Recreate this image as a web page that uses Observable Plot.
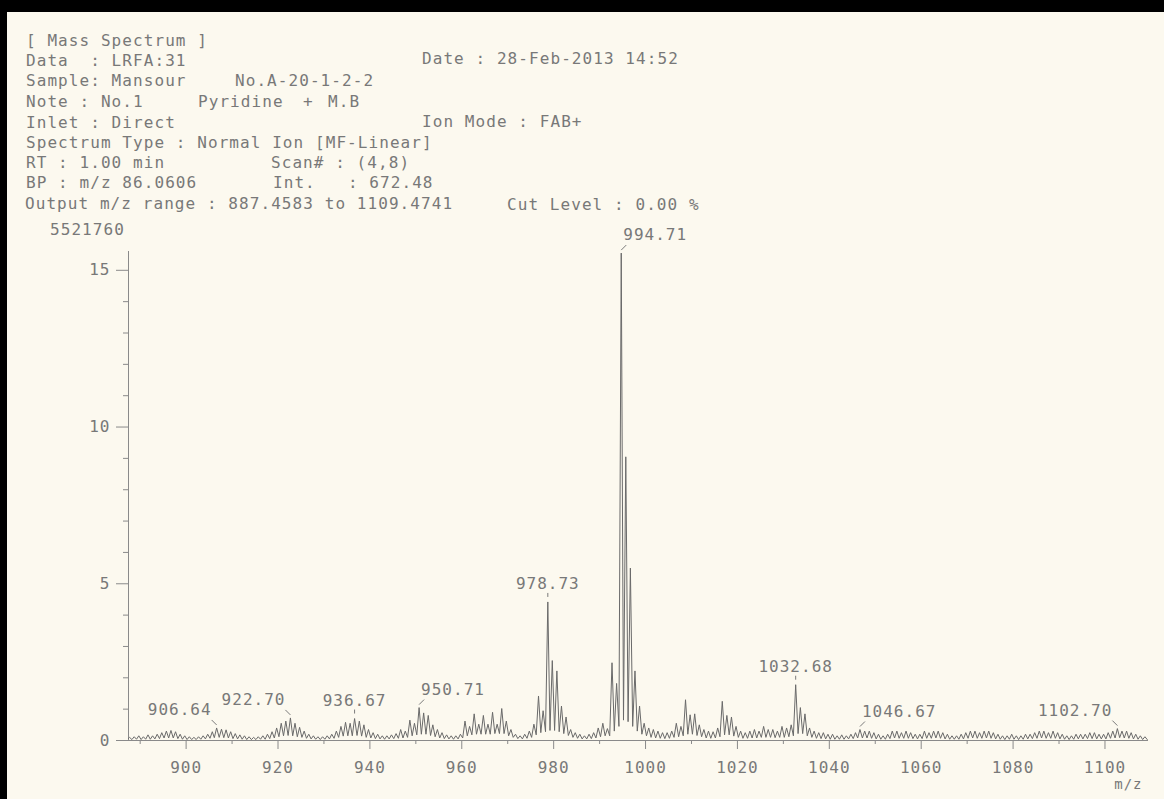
<!DOCTYPE html>
<html>
<head>
<meta charset="utf-8">
<script src="https://cdn.jsdelivr.net/npm/d3@7"></script>
<script src="https://cdn.jsdelivr.net/npm/@observablehq/plot@0.6"></script>
<style>
  html, body { margin: 0; padding: 0; background: #fcf9ef; }
  #page { position: relative; width: 1164px; height: 799px; overflow: hidden; background: #fcf9ef;
          font-family: "DejaVu Sans Mono", monospace; color: #787878; }
  .bar-top { position: absolute; left: 0; top: 0; width: 1164px; height: 12px; background: #000; z-index: 3; }
  .bar-left { position: absolute; left: 0; top: 0; width: 7px; height: 799px; background: #000; z-index: 3; }
  .t { position: absolute; font-size: 16px; line-height: 16px; letter-spacing: 1.07px; white-space: pre; z-index: 2; }
  #chart { position: absolute; left: 0; top: 0; z-index: 1; }
</style>
</head>
<body>
<div id="page">
  <div class="bar-top"></div>
  <div class="bar-left"></div>

  <div class="t" style="left:26px; top:33px;">[ Mass Spectrum ]</div>
  <div class="t" style="left:26px; top:53px;">Data  : LRFA:31</div>
  <div class="t" style="left:422px; top:51px;">Date : 28-Feb-2013 14:52</div>
  <div class="t" style="left:26px; top:73px;">Sample: Mansour</div>
  <div class="t" style="left:235px; top:73px;">No.A-20-1-2-2</div>
  <div class="t" style="left:26px; top:94px;">Note : No.1</div>
  <div class="t" style="left:198px; top:94px;">Pyridine</div>
  <div class="t" style="left:303px; top:94px;">+</div>
  <div class="t" style="left:328px; top:94px;">M.B</div>
  <div class="t" style="left:26px; top:115px;">Inlet : Direct</div>
  <div class="t" style="left:422px; top:114px;">Ion Mode : FAB+</div>
  <div class="t" style="left:26px; top:135px;">Spectrum Type : Normal Ion [MF-Linear]</div>
  <div class="t" style="left:26px; top:155px;">RT : 1.00 min</div>
  <div class="t" style="left:271px; top:155px;">Scan# : (4,8)</div>
  <div class="t" style="left:26px; top:175px;">BP : m/z 86.0606</div>
  <div class="t" style="left:273px; top:175px;">Int.   : 672.48</div>
  <div class="t" style="left:25px; top:196px;">Output m/z range : 887.4583 to 1109.4741</div>
  <div class="t" style="left:507px; top:197px;">Cut Level : 0.00 %</div>
  <div class="t" style="left:50px; top:222px;">5521760</div>

  <div id="chart"></div>
</div>

<script>
// ---- axis tick values ----
const xMajor = [900, 920, 940, 960, 980, 1000, 1020, 1040, 1060, 1080, 1100];
const xMinor = [890, 910, 930, 950, 970, 990, 1010, 1030, 1050, 1070, 1090];
const yMajor = [0, 5, 10, 15];
const yMinor = [1, 2, 3, 4, 6, 7, 8, 9, 11, 12, 13, 14];
const xDomain = [887.4583, 1109.4741];
const yDomain = [0, 15.6];

// ---- profile peaks (m/z of each isotope peak) ----
const peakMz = [
  887.7, 888.7, 889.7, 890.7, 891.7, 892.7, 893.7, 894.7, 895.7, 896.7,
  897.7, 898.7, 899.7, 900.7, 901.7, 902.7, 903.7, 904.7, 905.7, 906.64,
  907.7, 908.7, 909.7, 910.7, 911.7, 912.7, 913.7, 914.7, 915.7, 916.7,
  917.7, 918.7, 919.7, 920.7, 921.7, 922.70, 923.7, 924.7, 925.7, 926.7,
  927.7, 928.7, 929.7, 930.7, 931.7, 932.7, 933.7, 934.7, 935.7, 936.67,
  937.7, 938.7, 939.7, 940.7, 941.7, 942.7, 943.7, 944.7, 945.7, 946.7,
  947.7, 948.7, 949.7, 950.71, 951.7, 952.7, 953.7, 954.7, 955.7, 956.7,
  957.7, 958.7, 959.7, 960.7, 961.7, 962.7, 963.7, 964.7, 965.7, 966.7,
  967.7, 968.7, 969.7, 970.7, 971.7, 972.7, 973.7, 974.7, 975.7, 976.7,
  977.7, 978.73, 979.7, 980.7, 981.7, 982.7, 983.7, 984.7, 985.7, 986.7,
  987.7, 988.7, 989.7, 990.7, 991.7, 992.7, 993.7, 994.71, 995.7, 996.7,
  997.7, 998.7, 999.7, 1000.7, 1001.7, 1002.7, 1003.7, 1004.7, 1005.7, 1006.7,
  1007.7, 1008.7, 1009.7, 1010.7, 1011.7, 1012.7, 1013.7, 1014.7, 1015.7, 1016.7,
  1017.7, 1018.7, 1019.7, 1020.7, 1021.7, 1022.7, 1023.7, 1024.7, 1025.7, 1026.7,
  1027.7, 1028.7, 1029.7, 1030.7, 1031.7, 1032.68, 1033.7, 1034.7, 1035.7, 1036.7,
  1037.7, 1038.7, 1039.7, 1040.7, 1041.7, 1042.7, 1043.7, 1044.7, 1045.7, 1046.67,
  1047.7, 1048.7, 1049.7, 1050.7, 1051.7, 1052.7, 1053.7, 1054.7, 1055.7, 1056.7,
  1057.7, 1058.7, 1059.7, 1060.7, 1061.7, 1062.7, 1063.7, 1064.7, 1065.7, 1066.7,
  1067.7, 1068.7, 1069.7, 1070.7, 1071.7, 1072.7, 1073.7, 1074.7, 1075.7, 1076.7,
  1077.7, 1078.7, 1079.7, 1080.7, 1081.7, 1082.7, 1083.7, 1084.7, 1085.7, 1086.7,
  1087.7, 1088.7, 1089.7, 1090.7, 1091.7, 1092.7, 1093.7, 1094.7, 1095.7, 1096.7,
  1097.7, 1098.7, 1099.7, 1100.7, 1101.7, 1102.70, 1103.7, 1104.7, 1105.7, 1106.7,
  1107.7, 1108.7
];

// ---- peak intensities (scale units, 0..15) ----
const peakInt = [
  0.10, 0.12, 0.15, 0.12, 0.18, 0.15, 0.20, 0.25, 0.30, 0.32,
  0.28, 0.20, 0.15, 0.12, 0.10, 0.12, 0.15, 0.20, 0.28, 0.40,
  0.36, 0.34, 0.28, 0.22, 0.18, 0.15, 0.12, 0.10, 0.12, 0.15,
  0.20, 0.28, 0.40, 0.55, 0.62, 0.72, 0.55, 0.42, 0.30, 0.20,
  0.15, 0.12, 0.12, 0.15, 0.20, 0.30, 0.45, 0.58, 0.55, 0.70,
  0.62, 0.50, 0.35, 0.25, 0.20, 0.15, 0.15, 0.18, 0.22, 0.35,
  0.30, 0.65, 0.55, 1.05, 0.88, 0.80, 0.50, 0.35, 0.25, 0.18,
  0.15, 0.15, 0.20, 0.62, 0.45, 0.85, 0.52, 0.80, 0.52, 0.90,
  0.52, 1.02, 0.62, 0.35, 0.20, 0.15, 0.20, 0.30, 0.52, 1.42,
  0.95, 4.42, 2.55, 2.22, 1.10, 0.75, 0.35, 0.25, 0.20, 0.15,
  0.20, 0.25, 0.40, 0.55, 0.38, 2.48, 1.82, 15.55, 9.05, 5.50,
  2.22, 1.10, 0.55, 0.40, 0.35, 0.30, 0.25, 0.25, 0.30, 0.55,
  0.45, 1.30, 0.82, 0.85, 0.50, 0.35, 0.30, 0.28, 0.40, 1.25,
  0.80, 0.75, 0.45, 0.30, 0.25, 0.30, 0.35, 0.30, 0.45, 0.35,
  0.35, 0.30, 0.45, 0.40, 0.50, 1.78, 1.05, 0.85, 0.40, 0.30,
  0.25, 0.25, 0.20, 0.20, 0.15, 0.18, 0.15, 0.20, 0.25, 0.35,
  0.30, 0.30, 0.25, 0.20, 0.15, 0.20, 0.30, 0.30, 0.25, 0.30,
  0.25, 0.20, 0.20, 0.30, 0.25, 0.30, 0.30, 0.25, 0.20, 0.15,
  0.15, 0.20, 0.25, 0.30, 0.30, 0.25, 0.30, 0.30, 0.25, 0.20,
  0.15, 0.15, 0.20, 0.15, 0.15, 0.20, 0.20, 0.25, 0.30, 0.30,
  0.25, 0.30, 0.25, 0.20, 0.15, 0.15, 0.20, 0.20, 0.20, 0.25,
  0.25, 0.20, 0.20, 0.25, 0.30, 0.38, 0.30, 0.30, 0.25, 0.20,
  0.15, 0.12
];

// ---- valley intensity just before each peak (last value = trailing valley) ----
const valleyInt = [
  0.03, 0.03, 0.04, 0.03, 0.04, 0.04, 0.05, 0.06, 0.08, 0.08,
  0.08, 0.06, 0.04, 0.03, 0.03, 0.03, 0.04, 0.05, 0.07, 0.09,
  0.10, 0.09, 0.08, 0.06, 0.05, 0.04, 0.03, 0.03, 0.03, 0.04,
  0.04, 0.06, 0.08, 0.12, 0.15, 0.16, 0.15, 0.12, 0.10, 0.07,
  0.05, 0.04, 0.03, 0.04, 0.05, 0.07, 0.10, 0.14, 0.15, 0.15,
  0.16, 0.14, 0.10, 0.08, 0.06, 0.05, 0.04, 0.05, 0.06, 0.07,
  0.08, 0.10, 0.15, 0.18, 0.20, 0.20, 0.16, 0.12, 0.08, 0.06,
  0.05, 0.04, 0.05, 0.08, 0.15, 0.18, 0.20, 0.20, 0.20, 0.20,
  0.22, 0.22, 0.22, 0.15, 0.10, 0.06, 0.05, 0.07, 0.10, 0.18,
  0.25, 0.28, 0.32, 0.32, 0.28, 0.22, 0.16, 0.10, 0.07, 0.05,
  0.05, 0.06, 0.08, 0.12, 0.15, 0.15, 0.30, 0.45, 0.65, 0.60,
  0.45, 0.30, 0.20, 0.15, 0.10, 0.08, 0.07, 0.06, 0.07, 0.10,
  0.12, 0.15, 0.20, 0.20, 0.16, 0.12, 0.08, 0.07, 0.08, 0.12,
  0.18, 0.18, 0.14, 0.10, 0.07, 0.07, 0.08, 0.08, 0.10, 0.10,
  0.10, 0.09, 0.10, 0.10, 0.12, 0.15, 0.22, 0.22, 0.15, 0.10,
  0.07, 0.06, 0.05, 0.04, 0.04, 0.04, 0.04, 0.05, 0.06, 0.08,
  0.08, 0.08, 0.07, 0.05, 0.04, 0.04, 0.06, 0.08, 0.07, 0.07,
  0.07, 0.06, 0.05, 0.06, 0.07, 0.07, 0.08, 0.07, 0.05, 0.04,
  0.04, 0.04, 0.05, 0.07, 0.08, 0.07, 0.07, 0.08, 0.07, 0.05,
  0.04, 0.03, 0.04, 0.04, 0.03, 0.04, 0.05, 0.06, 0.07, 0.08,
  0.07, 0.07, 0.07, 0.05, 0.04, 0.03, 0.04, 0.05, 0.05, 0.06,
  0.06, 0.05, 0.05, 0.05, 0.07, 0.08, 0.09, 0.08, 0.07, 0.05,
  0.04, 0.03, 0.03
];

// ---- labelled peaks ----
const labelMz = [906.64, 922.70, 936.67, 950.71, 978.73, 994.71, 1032.68, 1046.67, 1102.70];
const labelSide = ["left", "left", "center", "right", "center", "right", "center", "right", "left"];

// ---- build chart ----
const W = 1164, H = 799;
const mL = 128, mR = 16, mT = 251, mB = 59;
const kx = (W - mL - mR) / (xDomain[1] - xDomain[0]);
const ky = (H - mT - mB) / (yDomain[1] - yDomain[0]);

const profile = [];
peakMz.forEach((m, i) => {
  profile.push({mz: m - 0.5, v: valleyInt[i]});
  profile.push({mz: m, v: peakInt[i]});
});
profile.push({mz: peakMz[peakMz.length - 1] + 0.5, v: valleyInt[valleyInt.length - 1]});

const labels = labelMz.map((m, i) => ({
  mz: m,
  h: peakInt[peakMz.indexOf(m)],
  side: labelSide[i],
  text: m.toFixed(2)
}));

const leaders = labels.map(d => {
  if (d.side === "right") return {x1: d.mz, y1: d.h + 3 / ky, x2: d.mz + 5 / kx, y2: d.h + 8 / ky};
  if (d.side === "left")  return {x1: d.mz, y1: d.h + 3 / ky, x2: d.mz - 5 / kx, y2: d.h + 8 / ky};
  return {x1: d.mz, y1: d.h + 5 / ky, x2: d.mz, y2: d.h + 9 / ky};
});

const axisColor = "#8a8a8a";
const inkColor = "#6a6a6a";
const textColor = "#787878";

const chart = Plot.plot({
  width: W, height: H,
  marginLeft: mL, marginRight: mR, marginTop: mT, marginBottom: mB,
  x: {domain: xDomain, label: null},
  y: {domain: yDomain, label: null},
  style: {
    background: "transparent",
    fontFamily: "'DejaVu Sans Mono', monospace",
    fontSize: "16px",
    letterSpacing: "1px",
    color: textColor,
    overflow: "visible"
  },
  marks: [
    Plot.ruleY([0], {stroke: axisColor, strokeWidth: 1}),
    Plot.ruleX([xDomain[0]], {stroke: axisColor, strokeWidth: 1}),
    Plot.axisY(yMinor, {tickSize: 5, fill: "none", stroke: axisColor}),
    Plot.axisY(yMajor, {tickSize: 12, tickPadding: 6, stroke: axisColor, fill: textColor}),
    Plot.axisX(xMinor, {tickSize: 4, fill: "none", stroke: axisColor}),
    Plot.axisX(xMajor, {tickSize: 9, tickPadding: 12, tickFormat: "d", stroke: axisColor, fill: textColor}),
    Plot.line(profile, {x: "mz", y: "v", stroke: inkColor, strokeWidth: 1, clip: true}),
    Plot.link(leaders, {x1: "x1", y1: "y1", x2: "x2", y2: "y2", stroke: "#7a7a7a", strokeWidth: 1}),
    Plot.text(labels.filter(d => d.side === "left"),
      {x: "mz", y: "h", text: "text", textAnchor: "end", dx: -5, dy: -18, fill: textColor}),
    Plot.text(labels.filter(d => d.side === "right"),
      {x: "mz", y: "h", text: "text", textAnchor: "start", dx: 2, dy: -18, fill: textColor}),
    Plot.text(labels.filter(d => d.side === "center"),
      {x: "mz", y: "h", text: "text", textAnchor: "middle", dy: -18, fill: textColor}),
    Plot.text(["m/z"], {frameAnchor: "bottom-right", text: d => d, textAnchor: "end",
      dx: -6, dy: 48, fontSize: 14, fill: textColor})
  ]
});
document.getElementById("chart").appendChild(chart);
</script>
</body>
</html>
